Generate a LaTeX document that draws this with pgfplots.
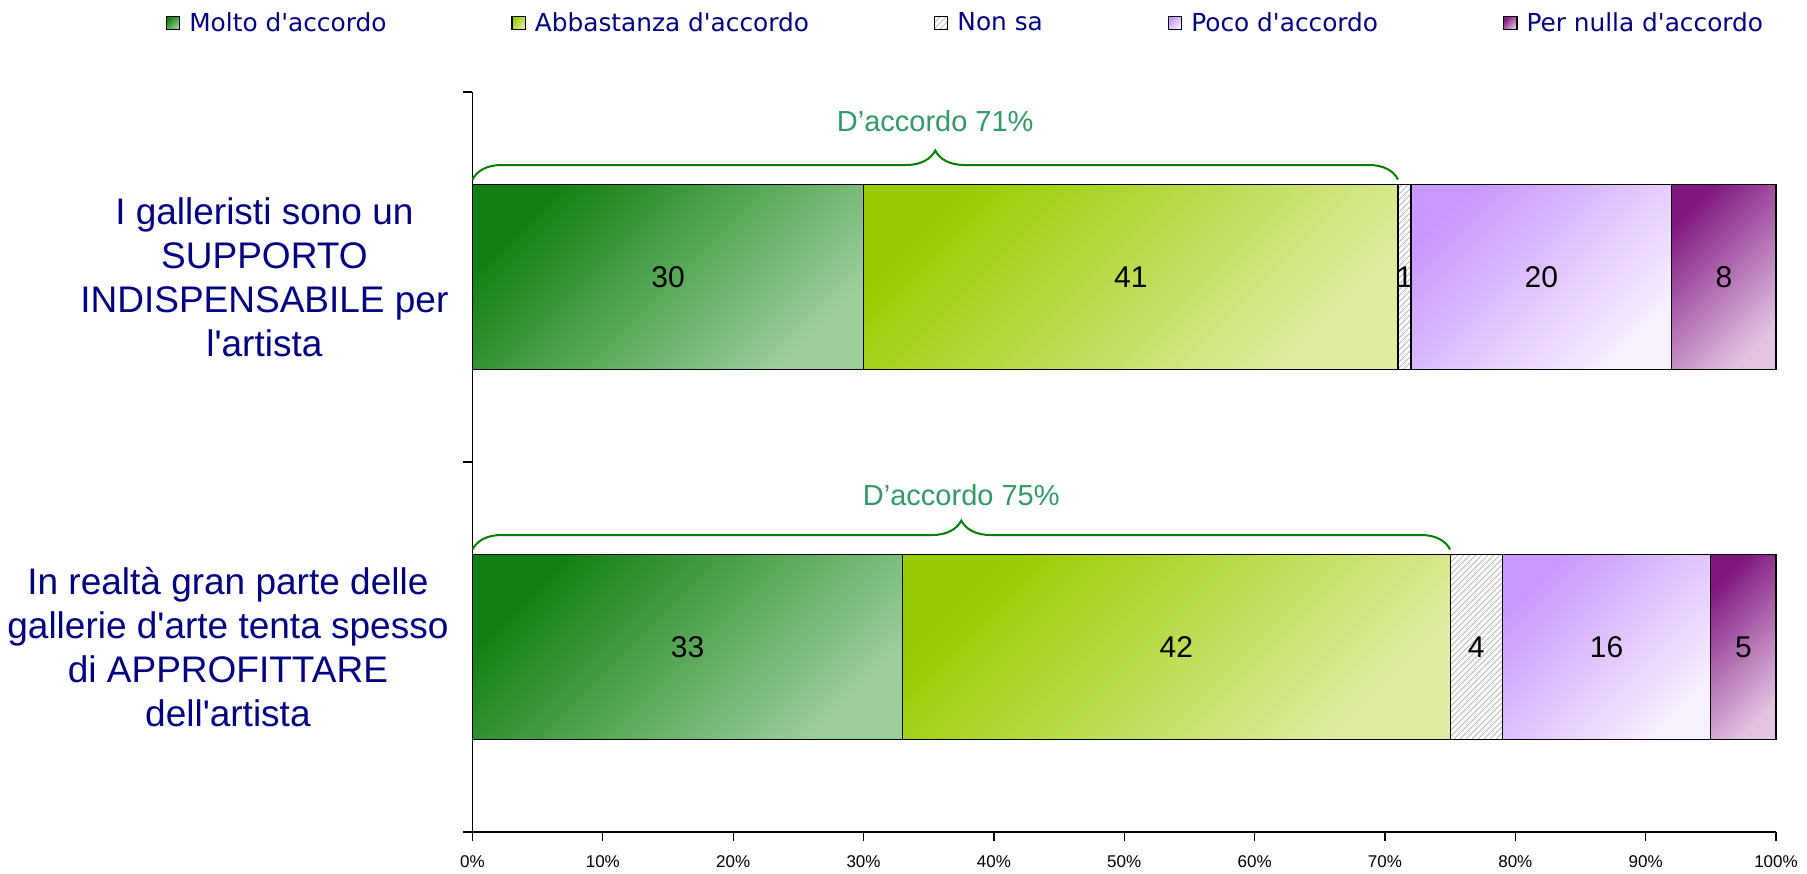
\documentclass[border=0pt]{standalone}
\usepackage{pgfplots}
\pgfplotsset{compat=1.18}
\usepackage{fontspec}
\usetikzlibrary{patterns,decorations.pathreplacing}
\setmainfont{Liberation Sans}
\newfontfamily\arial{Liberation Sans}
\newfontfamily\verdana{DejaVu Sans}
\definecolor{navy}{HTML}{000080}
\definecolor{g1a}{HTML}{128012}
\definecolor{g1b}{HTML}{9CCE9C}
\definecolor{g2a}{HTML}{99CC00}
\definecolor{g2b}{HTML}{DFEDA3}
\definecolor{p1a}{HTML}{C898FF}
\definecolor{p1b}{HTML}{F8F0FF}
\definecolor{p2a}{HTML}{801880}
\definecolor{p2b}{HTML}{E2C4E2}
\definecolor{bracegreen}{HTML}{008000}
\definecolor{textgreen}{HTML}{339966}
\pgfplotsset{
  mylegend/.style={legend image code/.code={\draw[##1, line width=0.6pt] (0pt,-3.3pt) rectangle (6.6pt,3.3pt);}},
  barbase/.style={
    scale only axis,
    width=651.75pt, height=370pt,
    xbar stacked,
    bar width=0.5,
    xmin=0, xmax=100,
    ymin=-0.5, ymax=1.5,
    clip=false,
    nodes near coords={\segval},
    point meta=explicit,
    visualization depends on={value \thisrow{v} \as \segval},
    every node near coord/.append style={font=\arial\fontsize{15}{18}\selectfont, text=black, anchor=center},
  },
  s1/.style={draw=black, line width=0.6pt, top color=g1a, bottom color=g1b, shading angle=45, mylegend},
  s2/.style={draw=black, line width=0.6pt, top color=g2a, bottom color=g2b, shading angle=45, mylegend},
  s3/.style={draw=black, line width=0.6pt, fill=white, postaction={pattern=north east lines, pattern color=gray!55}, mylegend},
  s4/.style={draw=black, line width=0.6pt, top color=p1a, bottom color=p1b, shading angle=45, mylegend},
  s5/.style={draw=black, line width=0.6pt, top color=p2a, bottom color=p2b, shading angle=45, mylegend},
}
\begin{document}
\begin{tikzpicture}
% ---- first statement (top bar), axes, labels, legend ----
\begin{axis}[
  barbase,
  name=ax,
  axis lines*=left,
  axis line style={black, line width=0.6pt},
  tick align=outside,
  major tick length=4.5pt,
  tick style={black, line width=0.6pt},
  xtick={0,10,...,100},
  xticklabels={0\%,10\%,20\%,30\%,40\%,50\%,60\%,70\%,80\%,90\%,100\%},
  xticklabel style={font=\arial\fontsize{8.5}{10}\selectfont, text=black, yshift=-4pt},
  ytick={-0.5,0.5,1.5},
  yticklabels={},
  extra y ticks={0,1},
  extra y tick labels={{In realtà gran parte delle\\gallerie d'arte tenta spesso\\di APPROFITTARE\\dell'artista},{I galleristi sono un\\SUPPORTO\\INDISPENSABILE per\\l'artista}},
  extra y tick style={major tick length=0pt, yticklabel style={align=center, font=\arial\fontsize{18.5}{22}\selectfont, text=navy, xshift=-8.5pt}},
  legend style={at={(0.379,1.093)}, anchor=center, draw=none, fill=none, legend columns=5,
    font=\verdana\fontsize{12.4}{14}\selectfont, text=navy,
    /tikz/every odd column/.append style={column sep=2.5pt},
    /tikz/every even column/.append style={column sep=60.5pt}},
]
\addplot[s1] table[x=v, y=y, meta=v] {
y v
1 30
};
\addlegendentry{Molto d'accordo}
\addplot[s2] table[x=v, y=y, meta=v] {
y v
1 41
};
\addlegendentry{Abbastanza d'accordo}
\addplot[s3] table[x=v, y=y, meta=v] {
y v
1 1
};
\addlegendentry{Non sa}
\addplot[s4] table[x=v, y=y, meta=v] {
y v
1 20
};
\addlegendentry{Poco d'accordo}
\addplot[s5] table[x=v, y=y, meta=v] {
y v
1 8
};
\addlegendentry{Per nulla d'accordo}
\draw[bracegreen, line width=1pt, decorate, decoration={brace, amplitude=14.5pt}] (axis cs:0,1.2635) -- (axis cs:71,1.2635);
\node[text=textgreen, font=\arial\fontsize{14.5}{17}\selectfont] at (axis cs:35.5,1.42) {D’accordo 71\%};
\draw[bracegreen, line width=1pt, decorate, decoration={brace, amplitude=14.5pt}] (axis cs:0,0.2635) -- (axis cs:75,0.2635);
\node[text=textgreen, font=\arial\fontsize{14.5}{17}\selectfont] at (axis cs:37.5,0.41) {D’accordo 75\%};
\end{axis}
% ---- second statement (bottom bar), same frame ----
\begin{axis}[
  barbase,
  at={(ax.south west)}, anchor=south west,
  hide axis,
]
\addplot[s1] table[x=v, y=y, meta=v] {
y v
0 33
};
\addplot[s2] table[x=v, y=y, meta=v] {
y v
0 42
};
\addplot[s3] table[x=v, y=y, meta=v] {
y v
0 4
};
\addplot[s4] table[x=v, y=y, meta=v] {
y v
0 16
};
\addplot[s5] table[x=v, y=y, meta=v] {
y v
0 5
};
\end{axis}
\pgfresetboundingbox
\path[use as bounding box] ([xshift=-236.25pt,yshift=-20.5pt]ax.south west) rectangle ([xshift=15.5pt,yshift=46pt]ax.north east);
\end{tikzpicture}
\end{document}
